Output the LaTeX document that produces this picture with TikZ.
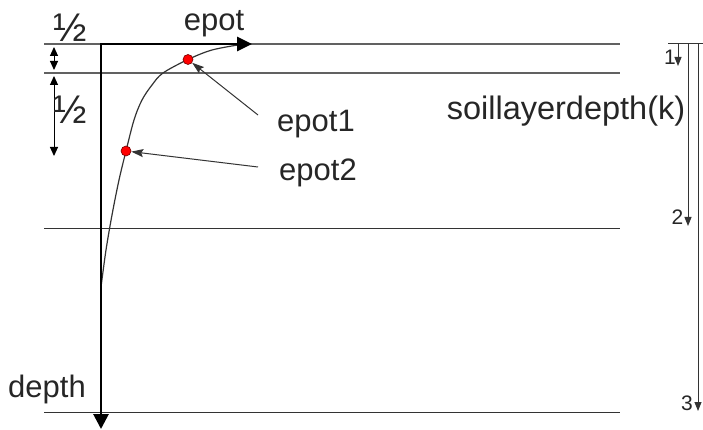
\documentclass[tikz,border=0pt]{standalone}
\usepackage{fontspec}
\setmainfont{Liberation Sans}
\usetikzlibrary{arrows.meta}
\begin{document}
\begin{tikzpicture}[x=1pt,y=-1pt,
  layer/.style={line width=1.3pt, draw=black!62},
  layerthin/.style={line width=1pt, draw=black!80},
  axis/.style={line width=2.8pt, {Triangle[length=15pt,width=14pt]}-{Triangle[length=15pt,width=15pt]}},
  dim/.style={line width=1pt, {Triangle[length=9pt,width=8pt]}-{Triangle[length=9pt,width=8pt]}},
  lead/.style={line width=1pt, draw=black!80, -{Stealth[length=12pt,width=8pt,inset=2pt]}},
  depthar/.style={line width=1pt, draw=black!80, -{Triangle[length=9pt,width=7pt]}},
  lbl/.style={font=\fontsize{31}{36}\selectfont, text=black!85, inner sep=0pt, anchor=base},
  half/.style={font=\fontsize{40}{44}\selectfont, text=black!85, inner sep=0pt, anchor=base},
  num/.style={font=\fontsize{21}{24}\selectfont, text=black!85, inner sep=0pt, anchor=base},
  dot/.style={circle, fill=red, draw=red!45!black, line width=0.6pt, minimum size=10pt, inner sep=0pt},
  curve/.style={line width=1.2pt, draw=black!80}]
\useasboundingbox (0,0) rectangle (703,430);

% soil layer boundaries
\coordinate (l0a) at (44,44);  \coordinate (l0b) at (620,44);
\coordinate (l1a) at (44,73);  \coordinate (l1b) at (620,73);
\coordinate (l2a) at (44,228); \coordinate (l2b) at (620,228);
\coordinate (l3a) at (44,412); \coordinate (l3b) at (620,412);
\draw[layer] (l0a) -- (l0b);
\draw[layer] (l1a) -- (l1b);
\draw[layerthin] (l2a) -- (l2b);
\draw[layerthin] (l3a) -- (l3b);

% evaporation profile curve
\draw[curve] plot[smooth, tension=0.55] coordinates {
  (101,287) (106,250) (112,215) (119,180) (126,151) (134,120)
  (142,100) (152,85) (163,73) (188,59.5) (212,50) (241,44.5)};

% axes
\coordinate (epottip) at (252,44);
\coordinate (origin) at (101,44);
\coordinate (depthtip) at (101,429);
\draw[axis] (epottip) -- (origin) -- (depthtip);
\node[lbl] (epot) at (214,31) {epot};
\node[lbl] (depth) at (47,397) {depth};

% half-layer dimensions
\coordinate (h1a) at (54,47);  \coordinate (h1b) at (54,70);
\coordinate (h2a) at (54,76);  \coordinate (h2b) at (54,156);
\draw[dim] (h1a) -- (h1b);
\draw[dim] (h2a) -- (h2b);
\node[half] (half1) at (70,42) {½};
\node[half] (half2) at (70,124) {½};

% sample points
\node[dot] (d1) at (188,59.5) {};
\node[dot] (d2) at (126,151) {};
\node[lbl] (t1) at (316,132) {epot1};
\node[lbl] (t2) at (318,181) {epot2};
\coordinate (s1) at (258,115);
\coordinate (s2) at (258,167);
\draw[lead] (s1) -- (d1);
\draw[lead] (s2) -- (d2);

% soil layer depths
\node[lbl, font=\fontsize{32.5}{36}\selectfont] (sld) at (566,120) {soillayerdepth(k)};
\coordinate (top0) at (668,44); \coordinate (top1) at (703,44);
\draw[line width=1pt, draw=black!80] (top0) -- (top1);
\coordinate (k0a) at (678,44); \coordinate (k0b) at (678,66);
\coordinate (k1a) at (688,44); \coordinate (k1b) at (688,226);
\coordinate (k2a) at (698,44); \coordinate (k2b) at (698,411);
\draw[depthar] (k0a) -- (k0b);
\draw[depthar] (k1a) -- (k1b);
\draw[depthar] (k2a) -- (k2b);
\node[num] (n1) at (670,65) {1};
\node[num] (n2) at (677.5,225) {2};
\node[num] (n3) at (687,410) {3};
\end{tikzpicture}
\end{document}
